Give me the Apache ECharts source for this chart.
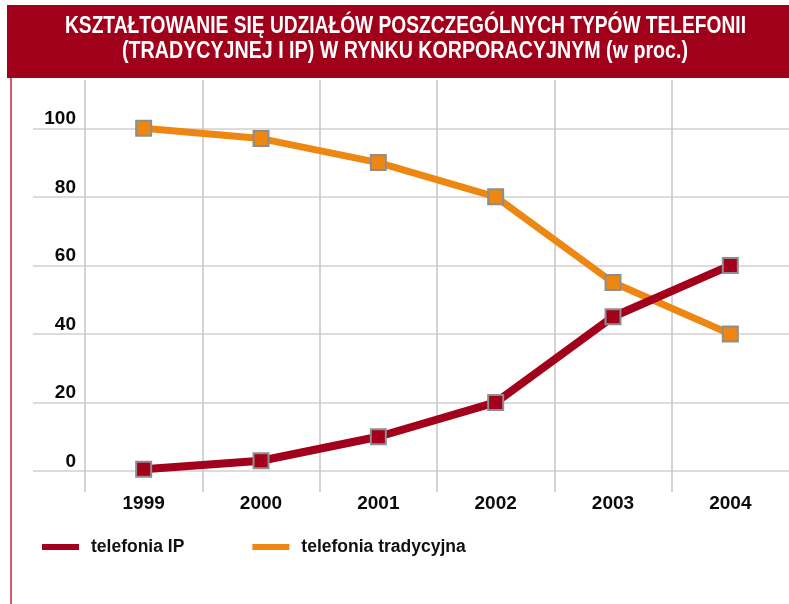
<!DOCTYPE html>
<html><head><meta charset="utf-8">
<script src="https://cdn.jsdelivr.net/npm/echarts@6/dist/echarts.min.js"></script>
<style>html,body{margin:0;padding:0;background:#fff}#c{width:789px;height:604px}</style>
</head><body><div id="c"></div>
<script>
const years = ['1999','2000','2001','2002','2003','2004'];
const ipValues = [0.5, 3, 10, 20, 45, 60];
const tradValues = [100, 97, 90, 80, 55, 40];
const yTicks = [0, 20, 40, 60, 80, 100];
const titleLines = ['KSZTAŁTOWANIE SIĘ UDZIAŁÓW POSZCZEGÓLNYCH TYPÓW TELEFONII', '(TRADYCYJNEJ I IP) W RYNKU KORPORACYJNYM (w proc.)'];
const seriesNames = ['telefonia IP', 'telefonia tradycyjna'];

const RED = '#a3001b', ORANGE = '#ee8712';
const FONT = '"Liberation Sans", Arial, sans-serif';
const TITLE_FONT = 'bold 23px ' + FONT;
const ctx = document.createElement('canvas').getContext('2d');
ctx.font = TITLE_FONT;
const s1 = 681 / ctx.measureText(titleLines[0]).width;
const s2 = 566 / ctx.measureText(titleLines[1]).width;

const chart = echarts.init(document.getElementById('c'));
chart.setOption({
  animation: false,
  graphic: [
    {type:'rect', shape:{x:7, y:5, width:790, height:73}, style:{fill:'#a0001a'}, z:0},
    {type:'line', shape:{x1:11, y1:78, x2:11, y2:604}, style:{stroke:'#cc5f6d', lineWidth:2}},
    {type:'text', x:405.5, y:26.5, scaleX:s1, originX:0, originY:0, style:{text:titleLines[0], fill:'#fff', font:TITLE_FONT, textAlign:'center', textVerticalAlign:'middle'}},
    {type:'text', x:405, y:52, scaleX:s2, originX:0, originY:0, style:{text:titleLines[1], fill:'#fff', font:TITLE_FONT, textAlign:'center', textVerticalAlign:'middle'}}
  ],
  legend: {
    left: 42, top: 538, padding: 0, itemWidth: 37, itemHeight: 6, itemGap: 68,
    data: [{name: seriesNames[0], icon:'rect'}, {name: seriesNames[1], icon:'rect'}],
    itemStyle: {borderWidth: 0},
    textStyle: {fontFamily: FONT, fontWeight:'bold', fontSize: 17.5, color:'#111', padding:[0,0,0,7]}
  },
  grid: [
    {left:85, width:706, top:128.3, bottom:133},
    {left:85, width:706, top:80, bottom:112},
    {left:33, right:0, top:128.3, bottom:133}
  ],
  xAxis: [
    {gridIndex:0, type:'category', data: years, boundaryGap:true,
     axisLine:{show:false}, axisTick:{show:false}, splitLine:{show:false},
     axisLabel:{margin:23, fontFamily:FONT, fontWeight:'bold', fontSize:19, color:'#0a0a0a'}},
    {gridIndex:1, type:'category', data: years, boundaryGap:true,
     axisLine:{show:false}, axisTick:{show:false}, axisLabel:{show:false},
     splitLine:{show:true, showMaxLine:false, lineStyle:{color:'#c6c6c6', width:1.5}}},
    {gridIndex:2, type:'value', show:false}
  ],
  yAxis: [
    {gridIndex:0, type:'value', min:0, max:100, interval:20,
     axisLine:{show:false}, axisTick:{show:false}, splitLine:{show:false},
     axisLabel:{margin:9, verticalAlign:'bottom', fontFamily:FONT, fontWeight:'bold', fontSize:19, color:'#0a0a0a',
       formatter: v => yTicks.includes(v) ? String(v) : ''}},
    {gridIndex:1, type:'value', show:false},
    {gridIndex:2, type:'value', min:0, max:100, interval:20,
     axisLine:{show:false}, axisTick:{show:false}, axisLabel:{show:false},
     splitLine:{show:true, lineStyle:{color:'#d0d0d0', width:1.5}}}
  ],
  series: [
    {name: seriesNames[1], type:'line', xAxisIndex:0, yAxisIndex:0, data: tradValues,
     symbol:'rect', symbolSize:15, lineStyle:{color:ORANGE, width:7},
     itemStyle:{color:ORANGE, borderColor:'#8e8e8e', borderWidth:2}, z:2},
    {name: seriesNames[0], type:'line', xAxisIndex:0, yAxisIndex:0, data: ipValues,
     symbol:'rect', symbolSize:15, lineStyle:{color:RED, width:8},
     itemStyle:{color:RED, borderColor:'#8e8e8e', borderWidth:2}, z:3}
  ]
});
</script></body></html>
